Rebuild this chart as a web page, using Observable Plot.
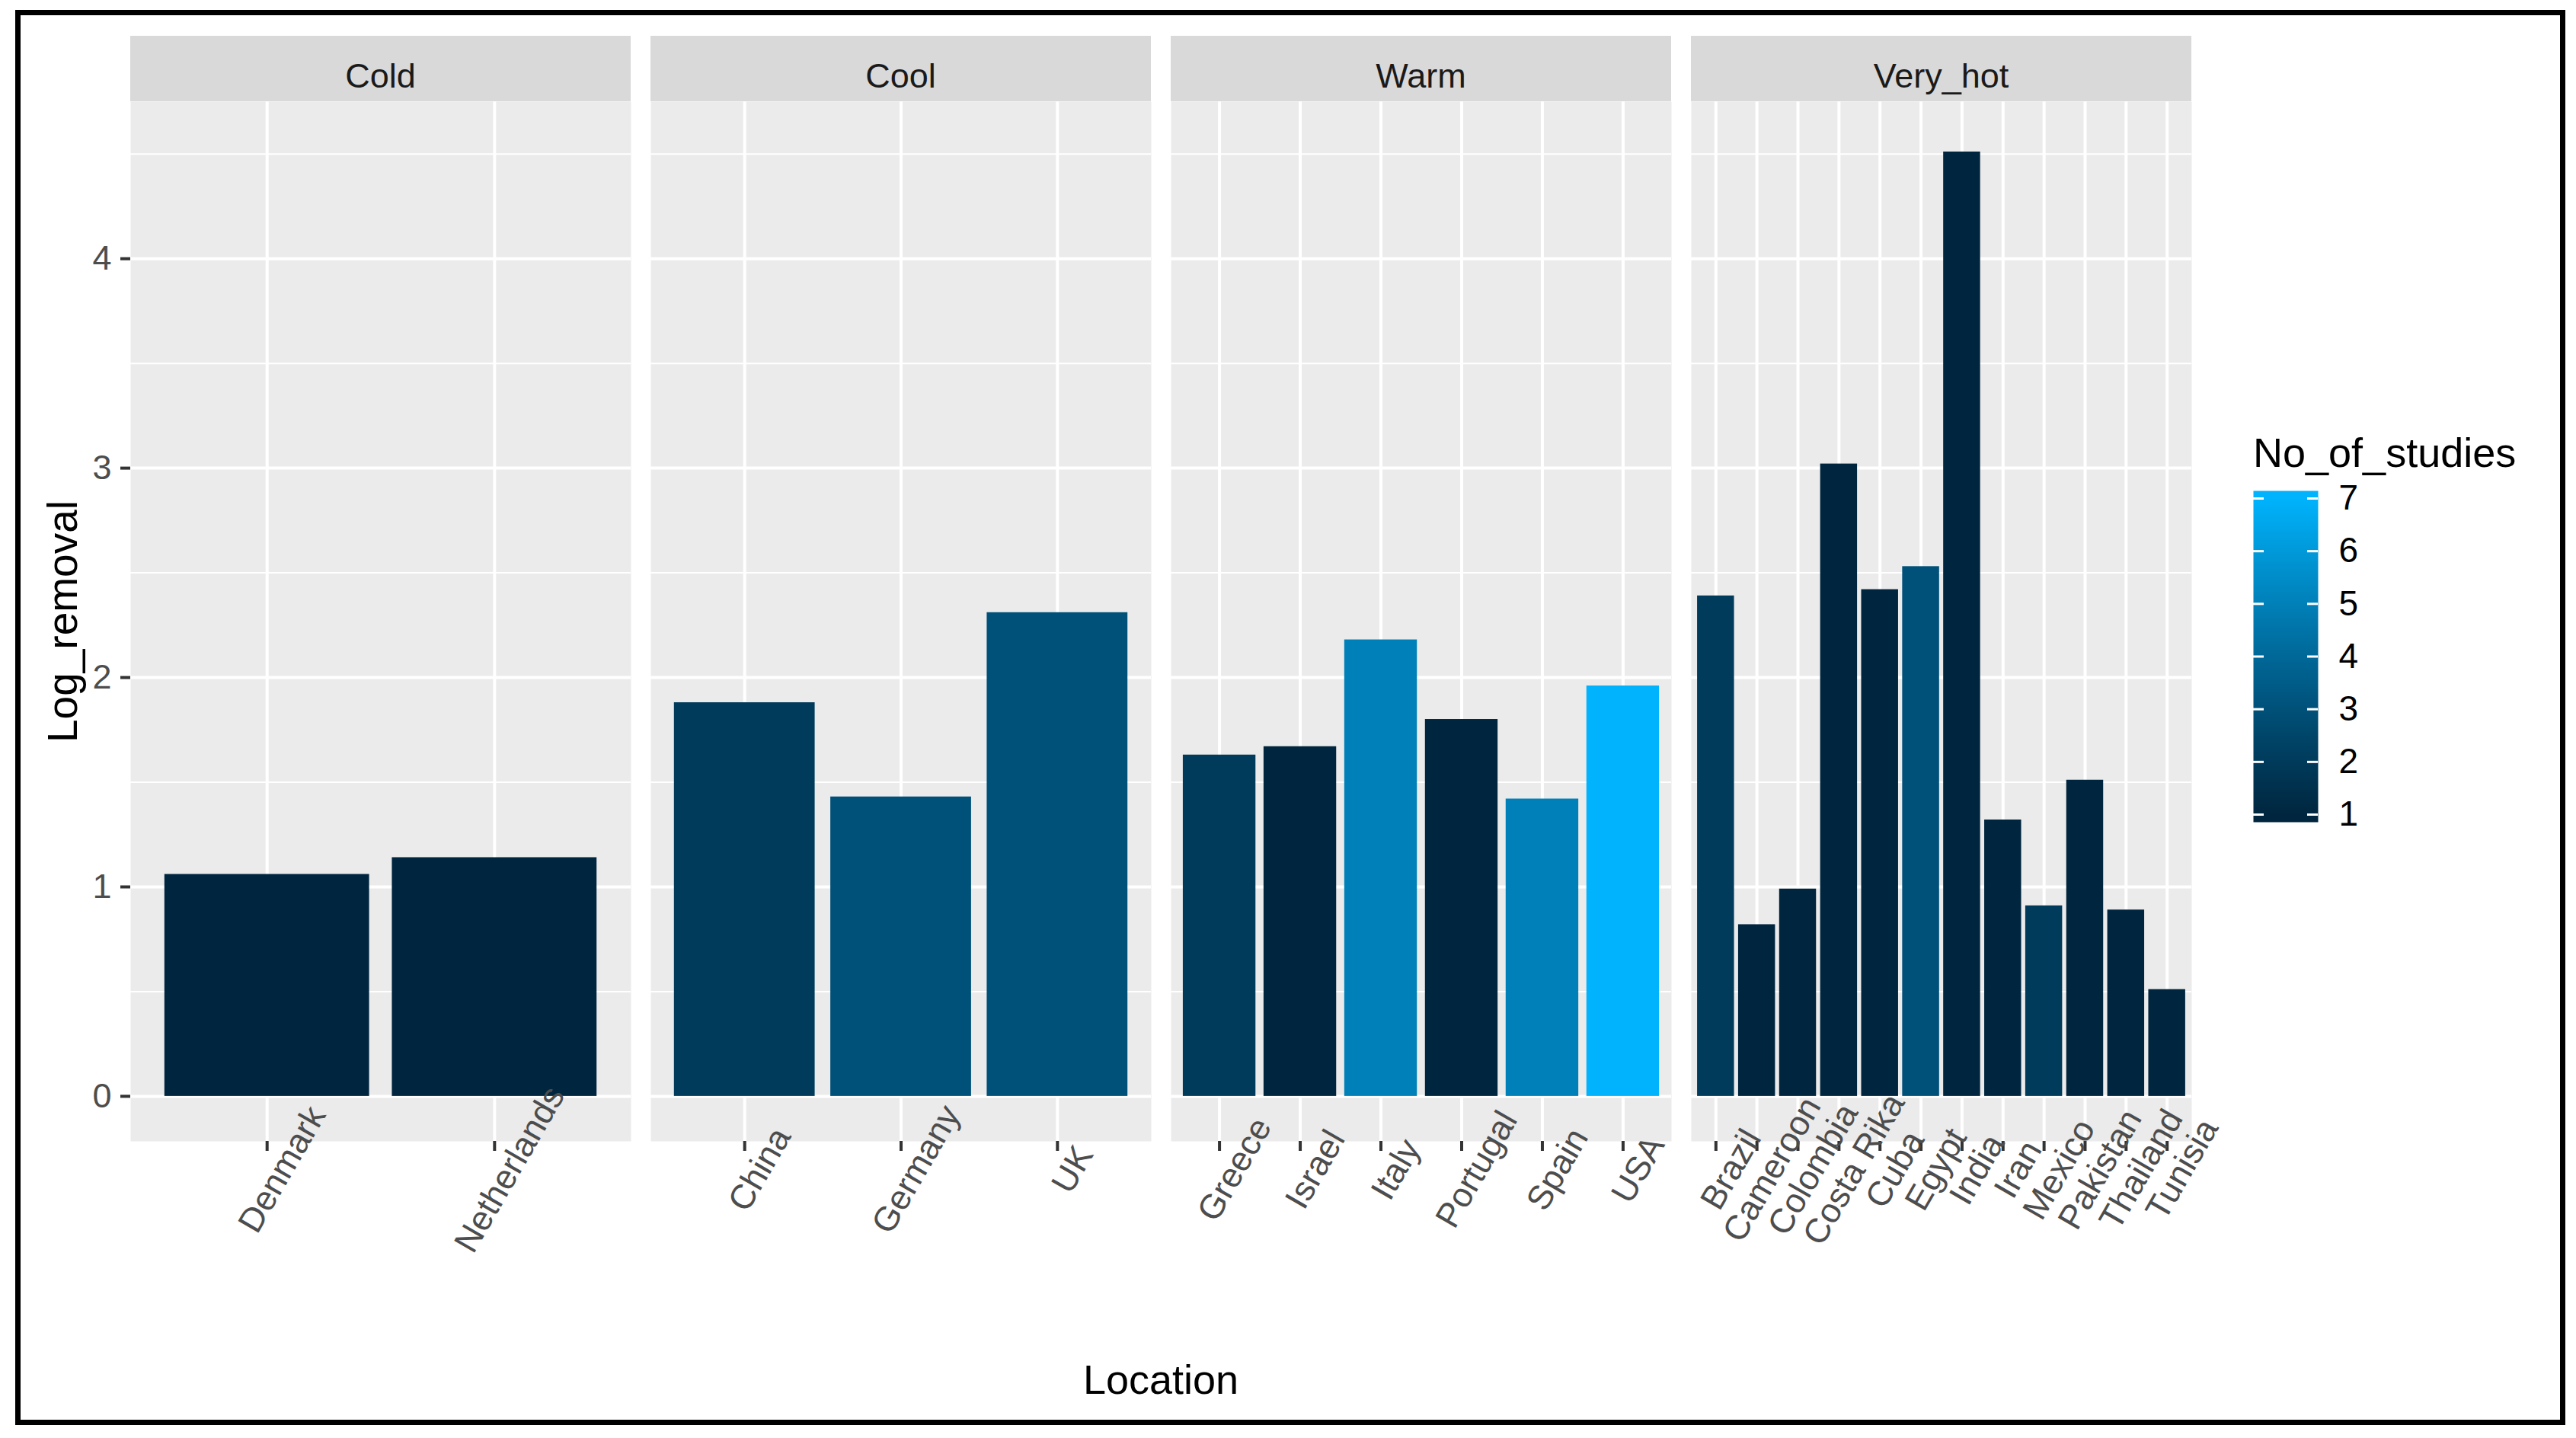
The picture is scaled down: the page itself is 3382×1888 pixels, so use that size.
<!DOCTYPE html>
<html><head><meta charset="utf-8">
<script src="https://cdn.jsdelivr.net/npm/d3@7"></script>
<script src="https://cdn.jsdelivr.net/npm/@observablehq/plot@0.6"></script>
<style>
html,body{margin:0;padding:0;background:#fff;}
#page{position:relative;width:3382px;height:1888px;overflow:hidden;font-family:"Liberation Sans",Arial,sans-serif;}
.frame{position:absolute;left:20px;top:13px;width:3348px;height:1858px;border:7px solid #000;box-sizing:border-box;}
.strip{position:absolute;top:47px;height:86px;width:657px;background:#D9D9D9;color:#1A1A1A;font-size:45px;line-height:45px;text-align:center;box-sizing:border-box;padding-top:30px;}
.xtitle{position:absolute;left:171px;width:2706px;top:1784px;font-size:54px;line-height:54px;text-align:center;color:#000;}
.ltitle{position:absolute;left:2958px;top:567px;font-size:54px;line-height:54px;color:#000;white-space:nowrap;}
svg{overflow:visible;}
</style></head><body>
<div id="page"><div class="frame"></div></div>
<script>
// ---- data ----
const climates = ["Cold", "Cool", "Warm", "Very_hot"];

const coldLocations = ["Denmark", "Netherlands"];
const coldLogRemoval = [1.06, 1.14];
const coldStudies = [1, 1];

const coolLocations = ["China", "Germany", "UK"];
const coolLogRemoval = [1.88, 1.43, 2.31];
const coolStudies = [2, 3, 3];

const warmLocations = ["Greece", "Israel", "Italy", "Portugal", "Spain", "USA"];
const warmLogRemoval = [1.63, 1.67, 2.18, 1.80, 1.42, 1.96];
const warmStudies = [2, 1, 5, 1, 5, 7];

const veryHotLocations = ["Brazil", "Cameroon", "Colombia", "Costa Rika", "Cuba", "Egypt", "India", "Iran", "Mexico", "Pakistan", "Thailand", "Tunisia"];
const veryHotLogRemoval = [2.39, 0.82, 0.99, 3.02, 2.42, 2.53, 4.51, 1.32, 0.91, 1.51, 0.89, 0.51];
const veryHotStudies = [2, 1, 1, 1, 1, 3, 1, 1, 2, 1, 1, 1];

const yMajorTicks = [0, 1, 2, 3, 4];
const yMinorTicks = [0.5, 1.5, 2.5, 3.5, 4.5];
const legendTicks = [1, 2, 3, 4, 5, 6, 7];

const yTitle = "Log_removal";
const xTitle = "Location";
const legendTitle = "No_of_studies";

// ---- build ----
const groups = [
  [coldLocations, coldLogRemoval, coldStudies],
  [coolLocations, coolLogRemoval, coolStudies],
  [warmLocations, warmLogRemoval, warmStudies],
  [veryHotLocations, veryHotLogRemoval, veryHotStudies]
];

const page = document.getElementById("page");
const font = '"Liberation Sans", Arial, sans-serif';
const colorOpts = {type: "linear", domain: [1, 7], range: ["#00263F", "#00B3FC"], interpolate: "lab"};
const panelLefts = [171, 854, 1537, 2220];
const panelW = 657, panelH = 1365, panelTop = 133;
const yDomain = [-0.215, 4.75];

climates.forEach((clim, i) => {
  const [locs, vals, studies] = groups[i];
  const data = locs.map((l, j) => ({Location: l, Log_removal: vals[j], No_of_studies: studies[j]}));
  const first = i === 0;
  const mL = first ? 171 : 10, mR = 90, mB = 220;

  const marks = [
    Plot.frame({fill: "#EBEBEB", stroke: "none"}),
    Plot.gridY(yMinorTicks, {stroke: "#FFFFFF", strokeWidth: 2, strokeOpacity: 1}),
    Plot.gridY(yMajorTicks, {stroke: "#FFFFFF", strokeWidth: 4, strokeOpacity: 1}),
    Plot.gridX({stroke: "#FFFFFF", strokeWidth: 4, strokeOpacity: 1}),
    Plot.barY(data, {x: "Location", y: "Log_removal", fill: "No_of_studies"}),
    Plot.axisX({tickSize: 13, tickFormat: () => "", stroke: "#333333", strokeWidth: 4, label: null}),
    Plot.text(locs, {x: d => d, text: d => d, frameAnchor: "bottom", dx: 20, dy: 37, rotate: -60,
      fontSize: 45, fill: "#4D4D4D", textAnchor: "middle", lineAnchor: "middle"})
  ];
  if (first) {
    marks.push(
      Plot.axisY(yMajorTicks, {tickSize: 13, tickPadding: 12, tickFormat: d => String(d), fontSize: 45,
        fill: "#4D4D4D", stroke: "#333333", strokeWidth: 4, label: null}),
      Plot.text([yTitle], {text: d => d, frameAnchor: "left", dx: -88, rotate: -90, fontSize: 55,
        fill: "#000000", textAnchor: "middle", lineAnchor: "middle"})
    );
  }

  const svg = Plot.plot({
    width: mL + panelW + mR,
    height: panelH + mB,
    marginTop: 0, marginBottom: mB, marginLeft: mL, marginRight: mR,
    style: {fontFamily: font, background: "transparent", overflow: "visible"},
    x: {domain: locs, paddingInner: 0.1, paddingOuter: 0.15, round: false, axis: null},
    y: {domain: yDomain, axis: null},
    color: colorOpts,
    marks
  });
  svg.style.position = "absolute";
  svg.style.left = (panelLefts[i] - mL) + "px";
  svg.style.top = panelTop + "px";
  page.appendChild(svg);

  const strip = document.createElement("div");
  strip.className = "strip";
  strip.style.left = panelLefts[i] + "px";
  strip.textContent = clim;
  page.appendChild(strip);
});

const xt = document.createElement("div");
xt.className = "xtitle";
xt.textContent = xTitle;
page.appendChild(xt);

const lt = document.createElement("div");
lt.className = "ltitle";
lt.textContent = legendTitle;
page.appendChild(lt);

// legend colorbar
const barW = 85, barH = 435;
const legend = Plot.plot({
  width: barW + 100, height: barH,
  marginTop: 0, marginBottom: 0, marginLeft: 0, marginRight: 100,
  style: {fontFamily: font, background: "transparent", overflow: "visible"},
  x: {domain: [0, 1], axis: null},
  y: {domain: [0.8554, 7.1446], axis: null},
  color: {...colorOpts, clamp: true},
  marks: [
    Plot.raster({x1: 0, x2: 1, y1: 0.8554, y2: 7.1446, width: 2, height: 300, fill: (x, y) => y, imageRendering: "auto"}),
    Plot.ruleY(legendTicks, {y: d => d, x1: 0, x2: 14 / 85, stroke: "#FFFFFF", strokeWidth: 3}),
    Plot.ruleY(legendTicks, {y: d => d, x1: 71 / 85, x2: 1, stroke: "#FFFFFF", strokeWidth: 3}),
    Plot.text(legendTicks, {y: d => d, text: d => String(d), frameAnchor: "right", dx: 27,
      textAnchor: "start", fontSize: 46, fill: "#000000"})
  ]
});
legend.style.position = "absolute";
legend.style.left = "2958px";
legend.style.top = "643.6px";
page.appendChild(legend);
</script>
</body></html>
